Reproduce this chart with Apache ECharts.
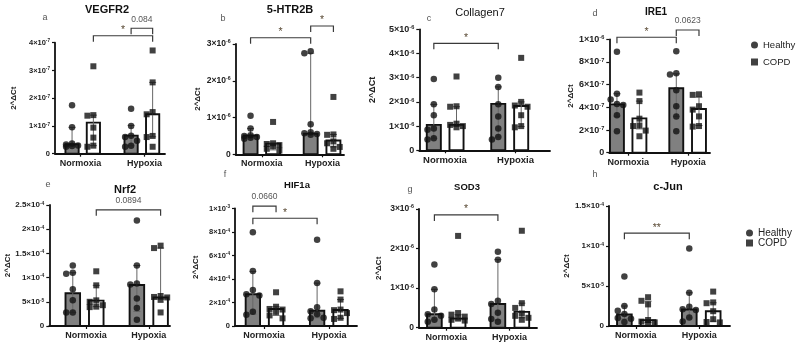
<!DOCTYPE html>
<html>
<head>
<meta charset="utf-8">
<script src="https://cdn.jsdelivr.net/npm/echarts@6/dist/echarts.min.js"></script>
<style>
html, body { margin: 0; padding: 0; background: #fff; }
#chart { width: 798px; height: 348px; }
</style>
</head>
<body>
<div id="chart"></div>
<script>
// group order in every panel: Normoxia-Healthy, Normoxia-COPD, Hypoxia-Healthy, Hypoxia-COPD
var groups = ['Normoxia', 'Hypoxia'];
var genes = ['VEGFR2', '5-HTR2B', 'Collagen7', 'IRE1', 'Nrf2', 'HIF1a', 'SOD3', 'c-Jun'];
var letters = ['a', 'b', 'c', 'd', 'e', 'f', 'g', 'h'];
var units = [1e-7, 1e-6, 1e-6, 1e-7, 1e-5, 1e-4, 1e-6, 1e-5];
var yMax = [4, 3, 5, 10, 25, 10, 3, 15];
var yStep = [1, 1, 1, 2, 5, 2, 1, 5];

// VEGFR2 (x1e-7)
var vegfr2Median = [0.34, 1.12, 0.65, 1.42];
var vegfr2Low = [0.27, 0.29, 0.29, 0.61];
var vegfr2High = [0.95, 1.39, 1.02, 2.57];
var vegfr2Points = [[1.75, 0.95, 0.37, 0.33, 0.30, 0.28, 0.25], [3.15, 1.39, 1.37, 0.94, 0.58, 0.29, 0.25],
                    [1.62, 1.0, 0.65, 0.6, 0.47, 0.29, 0.25], [3.72, 2.57, 1.5, 1.42, 0.64, 0.6, 0.25]];
var vegfr2Sig = [[1, 3, 4.25, '*'], [2, 3, 4.52, '0.084']];

// 5-HTR2B (x1e-6)
var htr2bMedian = [0.51, 0.29, 0.56, 0.375];
var htr2bLow = [0.45, 0.12, 0.53, 0.2];
var htr2bHigh = [0.7, 0.3, 2.75, 0.54];
var htr2bPoints = [[1.05, 0.7, 0.52, 0.5, 0.47, 0.45, 0.42], [0.88, 0.3, 0.28, 0.25, 0.22, 0.15, 0.1],
                   [2.8, 2.75, 0.82, 0.6, 0.57, 0.55, 0.53], [1.56, 0.54, 0.53, 0.35, 0.3, 0.2, 0.15]];
var htr2bSig = [[0, 2, 3.17, '*'], [2, 3, 3.49, '*']];

// Collagen7 (x1e-6)
var col7Median = [1.05, 1.05, 1.92, 1.83];
var col7Low = [0.5, 1.0, 0.55, 0.98];
var col7High = [1.9, 1.8, 2.62, 2.0];
var col7Points = [[2.95, 1.9, 1.45, 0.9, 0.85, 0.5, 0.45], [3.05, 1.82, 1.8, 1.1, 1.05, 1.0, 0.95],
                  [3.0, 2.62, 1.9, 1.4, 0.9, 0.55, 0.45], [3.82, 2.0, 1.85, 1.8, 1.45, 1.0, 0.95]];
var col7Sig = [[0, 2, 4.42, '*']];

// IRE1 (x1e-7)
var ire1Median = [4.26, 3.03, 5.68, 3.85];
var ire1Low = [3.2, 2.1, 3.2, 2.4];
var ire1High = [5.2, 4.55, 6.95, 4.9];
var ire1Points = [[8.9, 5.2, 4.7, 4.3, 4.2, 3.3, 1.9], [5.3, 4.55, 3.0, 2.4, 2.35, 1.95, 1.45],
                  [8.95, 7.0, 6.9, 5.5, 4.1, 3.2, 1.9], [5.15, 5.1, 4.1, 3.8, 3.2, 2.35, 2.3]];
var ire1Sig = [[0, 2, 10.18, '*'], [2, 3, 10.82, '0.0623']];

// Nrf2 (x1e-5)
var nrf2Median = [6.76, 5.24, 8.48, 5.9];
var nrf2Low = [2.8, 4.0, 3.0, 5.5];
var nrf2High = [11.0, 8.4, 12.5, 16.1];
var nrf2Points = [[12.5, 11.0, 10.8, 7.6, 5.3, 2.8, 2.8], [11.3, 8.4, 5.3, 5.0, 4.3, 4.0, 3.9],
                  [21.8, 12.5, 8.8, 8.6, 5.7, 3.7, 1.3], [16.6, 16.1, 6.2, 6.0, 5.9, 5.4, 2.8]];
var nrf2Sig = [[1, 3, 24, '0.0894']];

// HIF1a (x1e-4)
var hif1aMedian = [2.7, 1.45, 1.3, 1.36];
var hif1aLow = [1.0, 0.9, 0.7, 0.65];
var hif1aHigh = [4.65, 1.64, 3.65, 2.25];
var hif1aPoints = [[7.97, 4.68, 3.06, 2.7, 2.6, 1.22, 0.95], [2.87, 1.64, 1.45, 1.4, 1.2, 0.9, 0.65],
                   [7.35, 3.65, 1.6, 1.25, 1.0, 0.7, 0.65], [2.95, 2.25, 1.4, 1.35, 1.1, 0.7, 0.6]];
var hif1aSig = [[0, 1, 10.2, '0.0660'], [0, 2, 9.17, '*']];

// SOD3 (x1e-6)
var sod3Median = [0.34, 0.23, 0.6, 0.4];
var sod3Low = [0.2, 0.2, 0.2, 0.25];
var sod3High = [0.97, 0.33, 1.72, 0.62];
var sod3Points = [[1.6, 0.97, 0.46, 0.34, 0.3, 0.2, 0.15], [2.32, 0.37, 0.33, 0.28, 0.23, 0.2, 0.18],
                  [1.92, 1.72, 0.68, 0.6, 0.38, 0.22, 0.15], [2.45, 0.62, 0.5, 0.36, 0.3, 0.25, 0.2]];
var sod3Sig = [[0, 2, 2.85, '*']];

// c-Jun (x1e-5)
var cjunMedian = [1.44, 0.74, 2.06, 1.85];
var cjunLow = [0.9, 0.45, 1.0, 0.6];
var cjunHigh = [2.5, 3.1, 4.15, 2.9];
var cjunPoints = [[6.2, 2.5, 1.9, 1.5, 1.0, 0.9, 0.5], [3.6, 3.15, 2.7, 0.75, 0.55, 0.45, 0.4],
                  [9.7, 4.15, 2.4, 2.1, 2.0, 1.05, 0.55], [4.3, 2.95, 2.85, 1.85, 0.85, 0.5, 0.45]];
var cjunSig = [[0, 2, 11.6, '**']];

var medians = [vegfr2Median, htr2bMedian, col7Median, ire1Median, nrf2Median, hif1aMedian, sod3Median, cjunMedian];
var lows = [vegfr2Low, htr2bLow, col7Low, ire1Low, nrf2Low, hif1aLow, sod3Low, cjunLow];
var highs = [vegfr2High, htr2bHigh, col7High, ire1High, nrf2High, hif1aHigh, sod3High, cjunHigh];
var points = [vegfr2Points, htr2bPoints, col7Points, ire1Points, nrf2Points, hif1aPoints, sod3Points, cjunPoints];
var sigs = [vegfr2Sig, htr2bSig, col7Sig, ire1Sig, nrf2Sig, hif1aSig, sod3Sig, cjunSig];

// layout (pixels) per panel
var gridLeft = [55, 235.7, 419.3, 609.3, 49.3, 235, 419, 609];
var gridTop = [42.7, 44, 29.3, 39.3, 205, 208.5, 209, 206];
var gridWidth = [110, 108.3, 130.7, 100.7, 120.7, 122, 118, 121];
var gridHeight = [111, 110.3, 121, 113.4, 121, 117.5, 118.7, 120];
var xMin = [-0.8, -0.66, -0.64, -0.34, -1.0, -0.77, -0.65, -0.65];
var xMax = [4.36, 4.15, 5.12, 4.14, 4.14, 4.49, 4.33, 4.46];
var hypoxiaX = [2.77, 2.67, 2.84, 2.64, 2.73, 2.77, 2.68, 2.74];
var labelX = [[0.4, 3.4], [0.5, 3.2], [0.49, 3.6], [0.5, 3.17], [0.56, 3.24], [0.48, 3.28], [0.5, 3.17], [0.48, 3.16]];
var nameGap = [37, 34, 42, 32, 37, 35, 36, 36];
var tickFont = [7.5, 8.5, 9, 9, 8, 7.5, 8.5, 8];
var titlePos = [[107, 10], [290, 10], [480, 13], [656, 12], [125, 190], [297, 185], [467, 187], [668, 187]];
var titleSize = [11, 11, 11, 10, 11, 9.5, 9.5, 11];
var letterPos = [[45, 18], [223, 19], [429, 19], [595, 14], [48, 185], [225, 175], [410, 190], [595, 175]];

var FONT = 'Liberation Sans, Arial, sans-serif';

function tickLabel(unit) {
    return function (v) {
        if (v === 0) return '{m|0}';
        var real = v * unit;
        var e = Math.floor(Math.log10(real) + 1e-9);
        var m = Math.round(real / Math.pow(10, e) * 100) / 100;
        return '{m|' + m + '×10}{s|' + e + '}';
    };
}

// spread points sideways when they would overlap (like a column scatter)
function swarm(vals, center, pxX, pxY) {
    var placed = [];
    var offs = [0, -0.28, 0.28];
    return vals.slice().sort(function (a, b) { return b - a; }).map(function (v) {
        var best = 0, bestD = -1;
        for (var k = 0; k < offs.length; k++) {
            var d = Infinity;
            placed.forEach(function (p) {
                d = Math.min(d, Math.hypot((offs[k] - p[0]) * pxX, (v - p[1]) * pxY));
            });
            if (d >= 6.5) { best = offs[k]; break; }
            if (d > bestD) { bestD = d; best = offs[k]; }
        }
        placed.push([best, v]);
        return [center + best, v];
    });
}

function barRender(params, api) {
    var x = api.value(0), med = api.value(1), lo = api.value(2), hi = api.value(3), copd = api.value(4);
    var p0 = api.coord([x - 0.31, med]);
    var p1 = api.coord([x + 0.31, 0]);
    var e0 = api.coord([x, lo]);
    var e1 = api.coord([x, hi]);
    var cap = 3.5;
    var err = { stroke: '#666', lineWidth: 1 };
    return {
        type: 'group',
        children: [
            { type: 'rect', shape: { x: p0[0], y: p0[1], width: p1[0] - p0[0], height: p1[1] - p0[1] },
              style: { fill: copd ? '#ffffff' : '#808080', stroke: '#111', lineWidth: 1.9 } },
            { type: 'line', shape: { x1: e0[0], y1: e0[1], x2: e1[0], y2: e1[1] }, style: err },
            { type: 'line', shape: { x1: e1[0] - cap, y1: e1[1], x2: e1[0] + cap, y2: e1[1] }, style: err },
            { type: 'line', shape: { x1: e0[0] - cap, y1: e0[1], x2: e0[0] + cap, y2: e0[1] }, style: err }
        ]
    };
}

function bracketRender(sig) {
    return function (params, api) {
        var a = api.coord([api.value(0), api.value(2)]);
        var b = api.coord([api.value(1), api.value(2)]);
        var txt = sig[params.dataIndex][3];
        var star = txt.indexOf('*') >= 0;
        return {
            type: 'group',
            children: [
                { type: 'polyline', shape: { points: [[a[0], a[1] + 6], [a[0], a[1]], [b[0], b[1]], [b[0], b[1] + 6]] },
                  style: { stroke: '#3a3a3a', lineWidth: 1.2, fill: null } },
                { type: 'text', x: (a[0] + b[0]) / 2, y: star ? a[1] : a[1] - 4.5,
                  style: { text: txt, fontFamily: FONT, fontSize: star ? 10.5 : 8.5, fill: star ? '#5a4a35' : '#555',
                           align: 'center', verticalAlign: 'bottom' } }
            ]
        };
    };
}

var chart = echarts.init(document.getElementById('chart'));
var grid = [], xAxis = [], yAxis = [], series = [], graphic = [];

genes.forEach(function (gene, i) {
    var xPos = [0, 1, hypoxiaX[i], hypoxiaX[i] + 1.01];
    var pxX = gridWidth[i] / (xMax[i] - xMin[i]);
    var pxY = gridHeight[i] / yMax[i];
    var fs = tickFont[i];

    grid.push({ left: gridLeft[i], top: gridTop[i], width: gridWidth[i], height: gridHeight[i], outerBoundsMode: 'none' });

    xAxis.push({
        gridIndex: i, type: 'value', min: xMin[i], max: xMax[i],
        splitLine: { show: false },
        axisLine: { show: true, onZero: false, lineStyle: { color: '#111', width: 1.8 } },
        axisTick: { show: true, customValues: labelX[i], length: 3, lineStyle: { color: '#111', width: 1.2 } },
        axisLabel: {
            customValues: labelX[i], margin: 5, color: '#222', fontFamily: FONT,
            fontWeight: 'bold', fontSize: i === 2 ? 9.5 : 9,
            formatter: function (v) { return v < 2 ? groups[0] : groups[1]; }
        }
    });

    yAxis.push({
        gridIndex: i, type: 'value', min: 0, max: yMax[i], interval: yStep[i],
        name: '2^ΔCt', nameLocation: 'middle', nameGap: nameGap[i],
        nameTextStyle: { fontFamily: FONT, fontWeight: 'bold', fontSize: i === 2 ? 9 : 8, color: '#222' },
        splitLine: { show: false },
        axisLine: { show: true, onZero: false, lineStyle: { color: '#111', width: 1.8 } },
        axisTick: { show: true, length: 3, lineStyle: { color: '#111', width: 1.2 } },
        axisLabel: {
            margin: 5, fontSize: fs, formatter: tickLabel(units[i]),
            rich: {
                m: { fontFamily: FONT, fontWeight: 'bold', fontSize: fs, color: '#222' },
                s: { fontFamily: FONT, fontWeight: 'bold', fontSize: fs * 0.62, color: '#222', verticalAlign: 'top' }
            }
        }
    });

    series.push({
        type: 'custom', xAxisIndex: i, yAxisIndex: i, clip: false, z: 2,
        renderItem: barRender,
        data: xPos.map(function (x, g) {
            return [x, medians[i][g], lows[i][g], highs[i][g], g % 2];
        })
    });

    ['Healthy', 'COPD'].forEach(function (cond, c) {
        var data = [];
        [c, c + 2].forEach(function (g) {
            data = data.concat(swarm(points[i][g], xPos[g], pxX, pxY));
        });
        series.push({
            name: cond, type: 'scatter', xAxisIndex: i, yAxisIndex: i, z: 4,
            symbol: c === 0 ? 'circle' : 'rect', symbolSize: c === 0 ? 6.5 : 6,
            itemStyle: { color: '#111' },
            data: data
        });
    });

    series.push({
        type: 'custom', xAxisIndex: i, yAxisIndex: i, clip: false, z: 5,
        renderItem: bracketRender(sigs[i]),
        data: sigs[i].map(function (s) { return [xPos[s[0]], xPos[s[1]], s[2]]; })
    });

    graphic.push({
        type: 'text', x: titlePos[i][0], y: titlePos[i][1],
        style: { text: gene, fontFamily: FONT, fontWeight: i === 2 ? 'normal' : 'bold', fontSize: titleSize[i],
                 fill: '#111', align: 'center', verticalAlign: 'middle' }
    });
    graphic.push({
        type: 'text', x: letterPos[i][0], y: letterPos[i][1],
        style: { text: letters[i], fontFamily: FONT, fontSize: 9, fill: '#555', align: 'center', verticalAlign: 'middle' }
    });
});

var legendData = [{ name: 'Healthy', icon: 'circle' }, { name: 'COPD', icon: 'rect' }];

var option = {
    backgroundColor: '#fff',
    animation: false,
    grid: grid,
    xAxis: xAxis,
    yAxis: yAxis,
    legend: [
        { left: 751, top: 40, orient: 'vertical', itemWidth: 7, itemHeight: 7, itemGap: 7, padding: 0,
          selectedMode: false, data: legendData,
          textStyle: { fontFamily: FONT, fontSize: 9.5, color: '#222', lineHeight: 10 } },
        { left: 746, top: 228, orient: 'vertical', itemWidth: 7, itemHeight: 7, itemGap: 0, padding: 0,
          selectedMode: false, data: legendData,
          textStyle: { fontFamily: FONT, fontSize: 10, color: '#222', lineHeight: 9.5 } }
    ],
    graphic: graphic,
    series: series
};

chart.setOption(option);
</script>
</body>
</html>
